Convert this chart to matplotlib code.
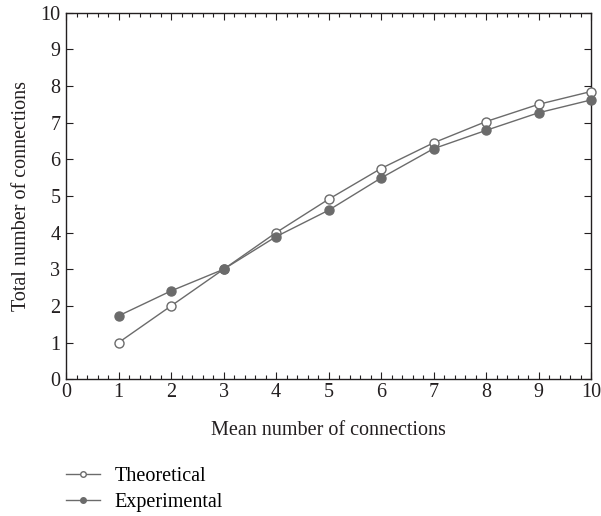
import matplotlib
matplotlib.use("Agg")
import matplotlib.pyplot as plt
from matplotlib.ticker import MultipleLocator
from matplotlib.lines import Line2D

x_vals = [1, 2, 3, 4, 5, 6, 7, 8, 9, 10]
theoretical = [1.00, 2.00, 3.00, 4.00, 4.91, 5.75, 6.45, 7.03, 7.50, 7.85]
experimental = [1.73, 2.41, 3.00, 3.89, 4.61, 5.49, 6.29, 6.79, 7.27, 7.62]
series_labels = ["Theoretical", "Experimental"]
x_label = "Mean number of connections"
y_label = "Total number of connections"

plt.rcParams['font.family'] = ['Liberation Serif', 'DejaVu Serif']
line_col = '#6b6b6b'
ax_col = '#231f20'
fs = 14.5

fig = plt.figure(figsize=(6.01, 5.16), dpi=100)
ax = fig.add_axes([66/601, 1-379.3/516, (591-66)/601, (379.3-12.7)/516])

ax.plot(x_vals, theoretical, color=line_col, lw=1.0, marker='o', ms=6.5,
        mfc='white', mec=line_col, mew=1.0, clip_on=False, zorder=3)
ax.plot(x_vals, experimental, color=line_col, lw=1.0, marker='o', ms=6.5,
        mfc=line_col, mec=line_col, mew=1.0, clip_on=False, zorder=3)

ax.set_xlim(0, 10)
ax.set_ylim(0, 10)
ax.xaxis.set_major_locator(MultipleLocator(1))
ax.xaxis.set_minor_locator(MultipleLocator(0.2))
ax.yaxis.set_major_locator(MultipleLocator(1))
ax.tick_params(axis='both', which='both', direction='in', colors=ax_col,
               labelsize=fs, top=True, right=True)
ax.tick_params(axis='x', which='major', length=5, width=0.8, pad=3)
ax.tick_params(axis='x', which='minor', length=3, width=0.8)
ax.tick_params(axis='y', which='major', length=5, width=0.8, pad=4)
for s in ax.spines.values():
    s.set_color(ax_col)
    s.set_linewidth(1.0)

ax.set_xlabel(x_label, fontsize=fs, color=ax_col, labelpad=13)
ax.set_ylabel(y_label, fontsize=fs, color=ax_col, labelpad=7)

handles = [
    Line2D([], [], color=line_col, lw=1.0, marker='o', ms=4.0, mfc='white', mec=line_col),
    Line2D([], [], color=line_col, lw=1.0, marker='o', ms=4.0, mfc=line_col, mec=line_col),
]
fig.legend(handles, series_labels, loc='upper left', bbox_to_anchor=(58/601, 1-459/516),
           frameon=False, fontsize=fs, handlelength=1.7, handletextpad=0.7,
           labelspacing=0.32, borderaxespad=0)

fig.savefig("out.png", dpi=100)
